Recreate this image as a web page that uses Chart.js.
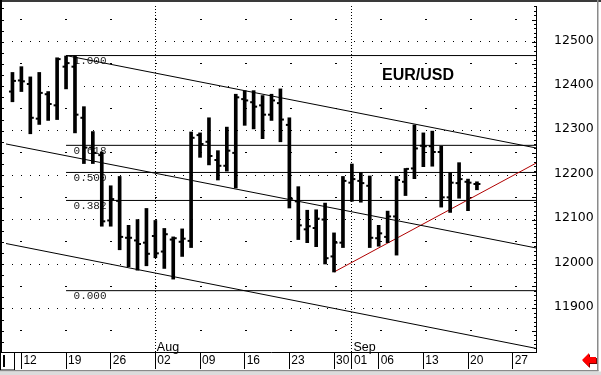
<!DOCTYPE html>
<html><head><meta charset="utf-8">
<style>html,body{margin:0;padding:0;background:#fff;overflow:hidden}</style>
<script src="https://cdn.jsdelivr.net/npm/chart.js@4.4.1/dist/chart.umd.min.js"></script>
</head><body>
<canvas id="c" width="601" height="375" style="display:block;width:601px;height:375px"></canvas>
<script>
// ---- data (trading-day index 0 = Fri 9 Jul) ----
const dayIdx = [0,1,2,3,4,5,6,7,8,9,10,11,12,13,14,15,16,17,18,19,20,21,22,23,24,25,26,27,28,29,30,31,32,33,34,35,36,37,38,39,40,41,42,43,44,45,46,47,48,49,50,51,52];
const opens  = [12388,12413,12405,12327,12382,12357,12444,12444,12329,12262,12245,12098,12142,12059,12053,12048,12063,12028,12055,12050,12052,12290,12275,12234,12221,12250,12371,12364,12357,12336,12362,12313,12141,12078,12081,12100,12017,12048,12183,12187,12176,12058,12061,12107,12185,12215,12266,12265,12252,12150,12182,12185,12180];
const highs  = [12431,12444,12421,12431,12388,12464,12468,12468,12354,12298,12252,12176,12197,12087,12100,12125,12098,12080,12061,12079,12297,12295,12329,12255,12308,12382,12390,12390,12379,12382,12394,12329,12174,12121,12122,12137,12070,12197,12225,12206,12198,12087,12119,12197,12215,12313,12295,12299,12265,12206,12228,12191,12185];
const lows   = [12365,12388,12293,12314,12323,12325,12394,12295,12226,12226,12085,12085,12032,11994,11986,11996,12014,11990,11966,12017,12037,12240,12223,12189,12209,12171,12312,12304,12282,12323,12275,12126,12055,12048,12039,12000,11982,12037,12141,12139,12037,12040,12048,12020,12154,12192,12219,12220,12128,12116,12148,12120,12167];
const closes = [12412,12411,12329,12385,12360,12461,12452,12336,12262,12250,12096,12146,12061,12059,12045,12023,12024,12067,12058,12057,12284,12270,12243,12221,12255,12375,12368,12354,12336,12368,12325,12147,12087,12085,12102,12013,12048,12187,12191,12182,12059,12069,12107,12189,12214,12260,12265,12252,12150,12183,12191,12183,12180];

const weekTickIdx    = [1,6,11,16,21,26,31,36,38,41,46,51,56];
const weekTickLabels = ['12','19','26','02','09','16','23','30','01','06','13','20','27'];
const monthIdx    = [16,38];
const monthLabels = ['Aug','Sep'];
const yTickValues = [11850,11900,11950,12000,12050,12100,12150,12200,12250,12300,12350,12400,12450,12500,12550];

const fibLabels = ['1.000','0.618','0.500','0.382','0.000'];
const fibValues = [12469,12267,12206,12143,11940];
const fibStartIdx = 6;

const channelUpper  = [[6,12469],[58.9,12260]];
const channelMiddle = [[-0.95,12271],[58.9,12035]];
const channelLower  = [[-0.95,12047],[58.9,11809]];
const trendRed      = [[36,11982],[58.9,12230]];
const chartTitle = 'EUR/USD';

// ---- geometry ----
const AREA_L = 2, AREA_R = 536, DAY_PX = 9, FIRST_PX = 8.5;
const xMin = (AREA_L - FIRST_PX) / DAY_PX;
const xMax = (AREA_R - FIRST_PX) / DAY_PX;
const tickShift = 2 / DAY_PX;

const pts = arr => arr.map(p => ({x: p[0], y: p[1]}));
const lineDs = (arr, color) => ({type:'line', data: pts(arr), borderColor: color, borderWidth: 1, pointRadius: 0, fill: false, tension: 0, order: 5});

const datasets = [
  {type:'bar', data: dayIdx.map((d,k)=>({x:d, y:[lows[k], highs[k]]})), backgroundColor:'#000', borderWidth:0, barThickness:3, grouped:false, order:0},
  {type:'scatter', data: dayIdx.map((d,k)=>({x:d - tickShift, y:opens[k]})), pointStyle:'line', pointRadius:1.5, pointBorderWidth:2, pointBorderColor:'#000', pointBackgroundColor:'#000', order:1},
  {type:'scatter', data: dayIdx.map((d,k)=>({x:d + tickShift, y:closes[k]})), pointStyle:'line', pointRadius:1.5, pointBorderWidth:2, pointBorderColor:'#000', pointBackgroundColor:'#000', order:1},
  lineDs(channelUpper, '#000'),
  lineDs(channelMiddle, '#000'),
  lineDs(channelLower, '#000'),
  lineDs(trendRed, '#b00000'),
];
fibValues.forEach(v => datasets.push(lineDs([[fibStartIdx, v],[xMax + 1, v]], '#000')));

const decor = {
  id: 'decor',
  beforeDatasetsDraw(chart) {
    const {ctx, scales:{x, y}} = chart;
    ctx.save();
    ctx.font = '11px "Liberation Mono", monospace';
    ctx.fillStyle = '#222';
    ctx.textBaseline = 'alphabetic';
    ctx.textAlign = 'left';
    const fx = x.getPixelForValue(fibStartIdx) + 7.5;
    fibValues.forEach((v,k) => ctx.fillText(fibLabels[k], fx, y.getPixelForValue(v) + 8.5));
    ctx.restore();
  },
  afterDraw(chart) {
    const {ctx, chartArea:a, scales:{x, y}} = chart;
    ctx.save();
    // month labels
    ctx.fillStyle = '#000';
    ctx.font = '12.5px "Liberation Sans", Arial';
    ctx.textBaseline = 'alphabetic';
    monthIdx.forEach((m,k) => ctx.fillText(monthLabels[k], x.getPixelForValue(m) + 1.5, a.bottom - 1.5));
    // title
    ctx.font = 'bold 16px "Liberation Sans", Arial';
    ctx.fillText(chartTitle, 382, 80);
    // top band
    ctx.fillStyle = '#3a3a3a';
    ctx.fillRect(0, 0, 601, 2);
    // left border + ticks
    ctx.fillStyle = '#000';
    ctx.fillRect(0, 0, 2, a.bottom);
    for (let v = 11825; v <= 12575; v += 25) {
      const py = Math.round(y.getPixelForValue(v));
      ctx.fillRect(2, py, 2, 1);
    }
    // right border inner ticks
    for (let v = 11810; v <= 12580; v += 10) {
      const py = Math.round(y.getPixelForValue(v));
      const len = v % 50 === 0 ? 4 : 2;
      ctx.fillRect(a.right - len, py, len, 1);
    }
    // bottom-left box
    ctx.strokeStyle = '#000'; ctx.lineWidth = 1;
    ctx.strokeRect(0.5, a.bottom + 0.5, 14, 17.5);
    ctx.fillRect(3, a.bottom + 3, 2, 12);
    // frame
    ctx.fillStyle = '#8a8a8a';
    ctx.fillRect(597, 0, 1.5, 371);
    ctx.fillRect(0, 370, 598.5, 1.5);
    ctx.fillStyle = '#dcdcdc';
    ctx.fillRect(0, 371.5, 601, 3.5);
    // red arrow
    const arrow = (dx, dy, col) => {
      ctx.fillStyle = col;
      ctx.beginPath();
      ctx.moveTo(582+dx, 360+dy); ctx.lineTo(589+dx, 353+dy); ctx.lineTo(589+dx, 357+dy);
      ctx.lineTo(596+dx, 357+dy); ctx.lineTo(596+dx, 363+dy); ctx.lineTo(589+dx, 363+dy);
      ctx.lineTo(589+dx, 367+dy); ctx.closePath(); ctx.fill();
    };
    arrow(1, 1, '#800000');
    arrow(0, 0, '#ff0000');
    ctx.restore();
  }
};

new Chart(document.getElementById('c'), {
  type: 'line',
  data: { datasets },
  plugins: [decor],
  options: {
    responsive: false, animation: false, events: [],
    layout: { padding: { left: AREA_L, top: 3, right: 0, bottom: 0 } },
    plugins: { legend: {display:false}, tooltip: {enabled:false}, title: {display:false} },
    scales: {
      x: {
        type: 'linear', position: 'bottom', min: xMin, max: xMax, offset: false,
        afterBuildTicks: s => { s.ticks = weekTickIdx.map(v => ({value: v})); },
        afterFit: s => { s.height = 23; s.paddingLeft = 0; s.paddingRight = 0; },
        grid: {
          offset: false, drawOnChartArea: true, drawTicks: true, tickLength: 17,
          tickColor: '#000', tickWidth: 1, lineWidth: 1,
          color: c => (c.tick && monthIdx.includes(c.tick.value)) ? '#000' : 'rgba(0,0,0,0)'
        },
        border: { display: true, color: '#000', width: 1, dash: c => c.tick ? [1,2] : [], dashOffset: 0 },
        ticks: {
          autoSkip: false, maxRotation: 0, minRotation: 0, align: 'start', labelOffset: 2, padding: -16,
          color: '#000', font: { family: '"Liberation Sans", Arial', size: 12 },
          callback: (v, k) => weekTickLabels[k]
        }
      },
      y: {
        type: 'linear', position: 'right', min: 11802, max: 12580.5, beginAtZero: false,
        afterBuildTicks: s => { s.ticks = yTickValues.map(v => ({value: v})); },
        afterFit: s => { s.width = 65; s.paddingTop = 0; s.paddingBottom = 0; },
        grid: { drawTicks: false, color: '#000', lineWidth: 1 },
        border: {
          display: true, color: '#000', width: 1,
          dash: c => !c.tick ? [] : (c.tick.value % 100 === 0 ? [1,8] : [2,43]),
          dashOffset: c => !c.tick ? 0 : (c.tick.value % 100 === 0 ? 3 : 31)
        },
        ticks: {
          autoSkip: false, padding: 18, labelOffset: -1.5, color: '#000',
          font: { family: '"DejaVu Sans"', size: 12.5 },
          callback: v => (v % 100 === 0 ? String(v) : '')
        }
      }
    }
  }
});
</script>
</body></html>
